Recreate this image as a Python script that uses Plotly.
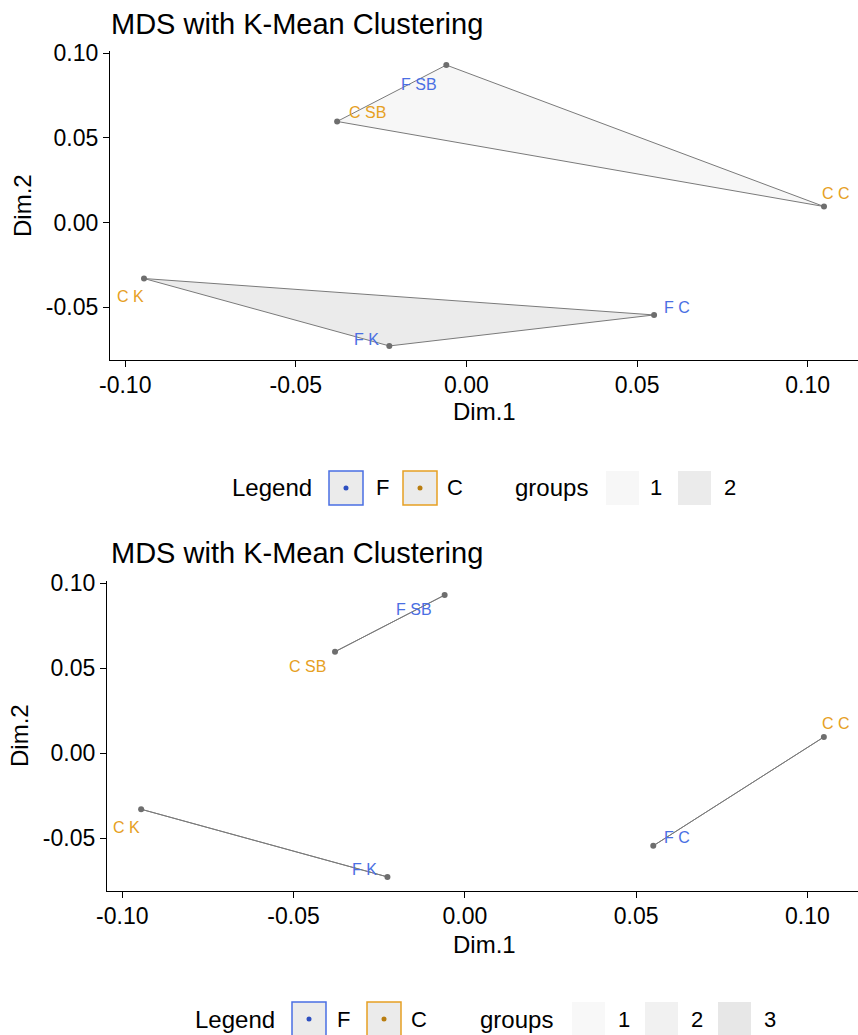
import plotly.graph_objects as go

# ---------------- data ----------------
samples = ["F SB", "C SB", "C C", "F C", "C K", "F K"]
dim1 = [-0.0059, -0.0379, 0.1048, 0.0550, -0.0945, -0.0226]
dim2 = [0.0930, 0.0597, 0.0095, -0.0545, -0.0330, -0.0728]
sample_type = ["F", "C", "C", "F", "C", "F"]
groups_k2 = [1, 1, 1, 2, 2, 2]
groups_k3 = [1, 1, 3, 3, 2, 2]
x_ticks = [-0.10, -0.05, 0.00, 0.05, 0.10]
y_ticks = [-0.05, 0.00, 0.05, 0.10]
title_text = "MDS with K-Mean Clustering"

# ---------------- styles ----------------
W, H = 858, 1035
FONT = "Liberation Sans, Arial, sans-serif"
type_color = {"F": "#4A6FE3", "C": "#E6A023"}
type_dot = {"F": "#2D4FC0", "C": "#B97D10"}
fills_k2 = {1: "#F7F7F7", 2: "#EBEBEB"}
fills_k3 = {1: "#F8F8F8", 2: "#F1F1F1", 3: "#E7E7E7"}
edge = "#7A7A7A"

# label offsets in pixels (xshift, yshift) per sample
offs_top = {"F SB": (-27, -19), "C SB": (30, 9), "C C": (12, 13),
            "F C": (23, 7), "C K": (-14, -18), "F K": (-23, 6)}
offs_bot = {"F SB": (-31, -14), "C SB": (-28, -15), "C C": (12, 14),
            "F C": (24, 8), "C K": (-15, -18), "F K": (-23, 7)}

def px(x):
    return x / W

def py(y):
    return 1 - y / H

# axis ranges from data (5% expansion like ggplot)
xmin, xmax = min(dim1), max(dim1)
ymin, ymax = min(dim2), max(dim2)
xr = [xmin - 0.05 * (xmax - xmin), xmax + 0.05 * (xmax - xmin)]
yr = [ymin - 0.05 * (ymax - ymin), ymax + 0.05 * (ymax - ymin)]

panels = [
    dict(xa="x", ya="y", groups=groups_k2, fills=fills_k2, offs=offs_top,
         ydom=(51, 360), title_y=24, xlab_y=411, ylab=(23, 206),
         legend=dict(y=488, legend_txt=272, fbox=(329, 363), ftxt=382, cbox=(403, 437), ctxt=455,
                     groups_txt=551, gboxes=[(606, 639), (678, 711)], gtxt=[656, 730])),
    dict(xa="x2", ya="y2", groups=groups_k3, fills=fills_k3, offs=offs_bot,
         ydom=(581, 891), title_y=553, xlab_y=944, ylab=(19, 736),
         legend=dict(y=1019, legend_txt=235, fbox=(292, 326), ftxt=343, cbox=(367, 401), ctxt=419,
                     groups_txt=516, gboxes=[(572, 605), (645, 678), (718, 751)], gtxt=[624, 697, 770])),
]

fig = go.Figure()
annotations = []
shapes = []

for p in panels:
    grp = p["groups"]
    for g in sorted(set(grp)):
        gx = [dim1[i] for i in range(len(samples)) if grp[i] == g]
        gy = [dim2[i] for i in range(len(samples)) if grp[i] == g]
        fig.add_trace(go.Scatter(
            x=gx + [gx[0]], y=gy + [gy[0]], mode="lines", fill="toself",
            fillcolor=p["fills"][g], line=dict(color=edge, width=1),
            xaxis=p["xa"], yaxis=p["ya"], showlegend=False, hoverinfo="skip"))
    fig.add_trace(go.Scatter(
        x=dim1, y=dim2, mode="markers", marker=dict(color="#6E6E6E", size=6),
        xaxis=p["xa"], yaxis=p["ya"], showlegend=False, text=samples))
    for i, s in enumerate(samples):
        dx, dy = p["offs"][s]
        annotations.append(dict(
            x=dim1[i], y=dim2[i], xref=p["xa"], yref=p["ya"], text=s, showarrow=False,
            xshift=dx, yshift=dy, font=dict(family=FONT, size=16, color=type_color[sample_type[i]])))
    annotations.append(dict(x=px(109), y=py(p["title_y"]), xref="paper", yref="paper",
                            text=title_text, showarrow=False, xanchor="left", yanchor="middle",
                            font=dict(family=FONT, size=29, color="black")))
    annotations.append(dict(x=px(484), y=py(p["xlab_y"]), xref="paper", yref="paper",
                            text="Dim.1", showarrow=False, xanchor="center", yanchor="middle",
                            font=dict(family=FONT, size=24, color="black")))
    annotations.append(dict(x=px(p["ylab"][0]), y=py(p["ylab"][1]), xref="paper", yref="paper",
                            text="Dim.2", showarrow=False, textangle=-90, xanchor="center",
                            yanchor="middle", font=dict(family=FONT, size=24, color="black")))
    L = p["legend"]
    yc = L["y"]
    half = 17
    annotations.append(dict(x=px(L["legend_txt"]), y=py(yc), xref="paper", yref="paper",
                            text="Legend", showarrow=False, xanchor="center", yanchor="middle",
                            font=dict(family=FONT, size=24, color="black")))
    for key, box, tx in (("F", L["fbox"], L["ftxt"]), ("C", L["cbox"], L["ctxt"])):
        shapes.append(dict(type="rect", xref="paper", yref="paper",
                           x0=px(box[0]), x1=px(box[1]), y0=py(yc + half), y1=py(yc - half),
                           fillcolor="#EBEBEB", line=dict(color=type_color[key], width=1.5)))
        cx = (box[0] + box[1]) / 2
        shapes.append(dict(type="circle", xref="paper", yref="paper",
                           x0=px(cx - 2.5), x1=px(cx + 2.5), y0=py(yc + 2.5), y1=py(yc - 2.5),
                           fillcolor=type_dot[key], line=dict(width=0)))
        annotations.append(dict(x=px(tx), y=py(yc), xref="paper", yref="paper", text=key,
                                showarrow=False, xanchor="center", yanchor="middle",
                                font=dict(family=FONT, size=22, color="black")))
    annotations.append(dict(x=px(L["groups_txt"]), y=py(yc), xref="paper", yref="paper",
                            text="groups", showarrow=False, xanchor="center", yanchor="middle",
                            font=dict(family=FONT, size=24, color="black")))
    for j, g in enumerate(sorted(set(grp))):
        b = L["gboxes"][j]
        shapes.append(dict(type="rect", xref="paper", yref="paper",
                           x0=px(b[0]), x1=px(b[1]), y0=py(yc + half), y1=py(yc - half),
                           fillcolor=p["fills"][g], line=dict(width=0)))
        annotations.append(dict(x=px(L["gtxt"][j]), y=py(yc), xref="paper", yref="paper",
                                text=str(g), showarrow=False, xanchor="center", yanchor="middle",
                                font=dict(family=FONT, size=22, color="black")))

axis_common = dict(showgrid=False, zeroline=False, showline=True, linecolor="black", linewidth=1.3,
                   ticks="outside", ticklen=6, tickwidth=1.3, tickcolor="black", mirror=False,
                   automargin=False, tickfont=dict(family=FONT, size=23, color="black"))
x_extra = dict(ticklabelstandoff=-2)
xtext = ["%.2f" % v for v in x_ticks]
ytext = ["%.2f" % v for v in y_ticks]

fig.update_layout(
    width=W, height=H, margin=dict(l=0, r=0, t=0, b=0, pad=0, autoexpand=False),
    paper_bgcolor="white", plot_bgcolor="white", showlegend=False,
    xaxis=dict(axis_common, **x_extra, domain=[px(110), 1.0], range=xr, anchor="y",
               tickvals=x_ticks, ticktext=xtext),
    yaxis=dict(axis_common, domain=[py(panels[0]["ydom"][1]), py(panels[0]["ydom"][0])], range=yr,
               anchor="x", tickvals=y_ticks, ticktext=ytext),
    xaxis2=dict(axis_common, **x_extra, domain=[px(107), 1.0], range=xr, anchor="y2",
                tickvals=x_ticks, ticktext=xtext),
    yaxis2=dict(axis_common, domain=[py(panels[1]["ydom"][1]), py(panels[1]["ydom"][0])], range=yr,
                anchor="x2", tickvals=y_ticks, ticktext=ytext),
    annotations=annotations, shapes=shapes,
)

fig.write_html("out.html", config={"displayModeBar": False}, post_script=(
    "document.body.style.margin='0';document.body.style.padding='0';"
    "document.body.style.overflow='hidden';"
    "var d=document.getElementById('{plot_id}');"
    "if(d&&d.parentElement){d.parentElement.style.lineHeight='0';d.parentElement.style.fontSize='0';}"))
